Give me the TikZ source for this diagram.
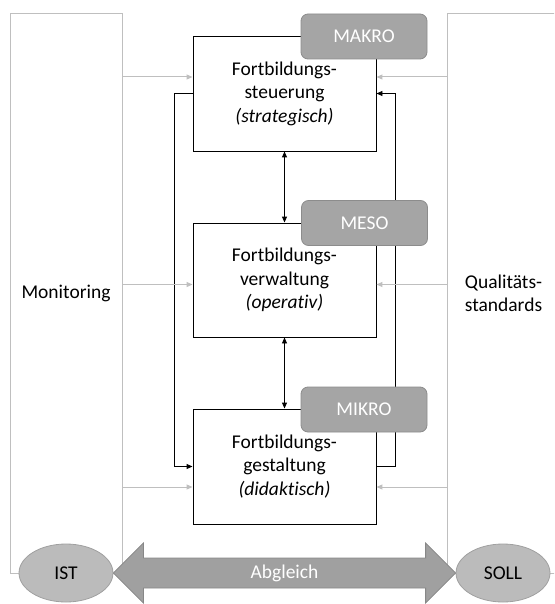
\documentclass[tikz,border=0pt]{standalone}
\usepackage{fontspec}
\setmainfont[Ligatures={NoCommon}]{Carlito}
\usetikzlibrary{arrows.meta,calc,shapes.geometric}
\definecolor{lightline}{HTML}{BFBFBF}
\definecolor{tagfill}{HTML}{A5A5A5}
\definecolor{tagborder}{HTML}{8C8C8C}
\definecolor{ovalfill}{HTML}{BBBBBB}
\definecolor{ovalborder}{HTML}{A0A0A0}
\definecolor{arrowfill}{HTML}{A0A0A0}
\definecolor{arrowborder}{HTML}{878787}
\begin{document}
\begin{tikzpicture}[x=1pt,y=-1pt,
  font=\fontsize{19.5}{23.5}\selectfont,
  levelbox/.style={draw=black, line width=0.9pt, fill=white, minimum width=183pt, minimum height=115pt, inner sep=0pt, align=center},
  tagbox/.style={draw=tagborder, line width=0.8pt, fill=tagfill, rounded corners=7pt, minimum width=126pt, minimum height=45pt, text=white, inner sep=0pt},
  sidebox/.style={draw=lightline, line width=1pt, inner sep=0pt, align=center, minimum height=559pt},
  oval/.style={ellipse, draw=ovalborder, line width=0.8pt, fill=ovalfill, minimum width=94pt, minimum height=58pt, inner sep=0pt},
  grayarrow/.style={draw=lightline, line width=1pt, -{Triangle[length=6pt,width=5pt]}},
  blackarrow/.style={draw=black, line width=0.9pt, -{Triangle[length=6pt,width=5pt]}},
  botharrow/.style={draw=black, line width=0.9pt, {Triangle[length=6pt,width=5pt]}-{Triangle[length=6pt,width=5pt]}},
  bigarrow/.style={draw=arrowborder, line width=0.8pt, fill=arrowfill}
]
\useasboundingbox (0,0) rectangle (554,604);
\clip (0,0) rectangle (554,604);

% side frames
\node[sidebox, minimum width=112pt] (mon) at (66,293.5) {Monitoring};
\node[sidebox, minimum width=113pt] (qual) at (503.5,293.5) {Qualitäts-\\standards};

% ovals
\node[oval] (ist) at (66,573) {IST};
\node[oval] (soll) at (503,573) {SOLL};

% big double arrow
\coordinate (L) at (ist.east);
\coordinate (R) at (soll.west);
\draw[bigarrow] (L) -- ++(30,-30) -- ++(0,15) -- ($(R)+(-30,-15)$) -- ++(0,-15) -- (R)
  -- ++(-30,30) -- ++(0,-15) -- ($(L)+(30,15)$) -- ++(0,15) -- cycle;
\node[text=white] (abgl) at ($(L)!0.5!(R)$) {Abgleich};

% level boxes
\node[levelbox] (b1) at (284.5,93.5) {Fortbildungs-\\steuerung\\\textit{(strategisch)}};
\node[levelbox, minimum height=114pt] (b2) at (284.5,280) {Fortbildungs-\\verwaltung\\\textit{(operativ)}};
\node[levelbox] (b3) at (284.5,466.5) {Fortbildungs-\\gestaltung\\\textit{(didaktisch)}};

% black feedback connectors
\draw[blackarrow] (b1.west) -- ++(-18,0) |- (b3.west);
\draw[blackarrow] (b3.east) -- ++(19,0) |- (b1.east);

% vertical double arrows
\draw[botharrow] (b1.south) -- (b2.north);
\draw[botharrow] (b2.south) -- (b3.north);

% gray input arrows
\coordinate (l1) at ($(b1.west)+(0,-16.5)$);
\coordinate (l2) at ($(b2.west)+(0,4.5)$);
\coordinate (l3) at ($(b3.west)+(0,20.5)$);
\coordinate (r1) at ($(b1.east)+(0,-16.5)$);
\coordinate (r2) at ($(b2.east)+(0,4.5)$);
\coordinate (r3) at ($(b3.east)+(0,20.5)$);
\draw[grayarrow] (mon.east |- l1) -- (l1);
\draw[grayarrow] (mon.east |- l2) -- (l2);
\draw[grayarrow] (mon.east |- l3) -- (l3);
\draw[grayarrow] (qual.west |- r1) -- (r1);
\draw[grayarrow] (qual.west |- r2) -- (r2);
\draw[grayarrow] (qual.west |- r3) -- (r3);

% level tags
\node[tagbox] (makro) at (364,36.5) {MAKRO};
\node[tagbox] (meso) at (364.5,223) {MESO};
\node[tagbox] (mikro) at (364,409.5) {MIKRO};
\end{tikzpicture}
\end{document}
